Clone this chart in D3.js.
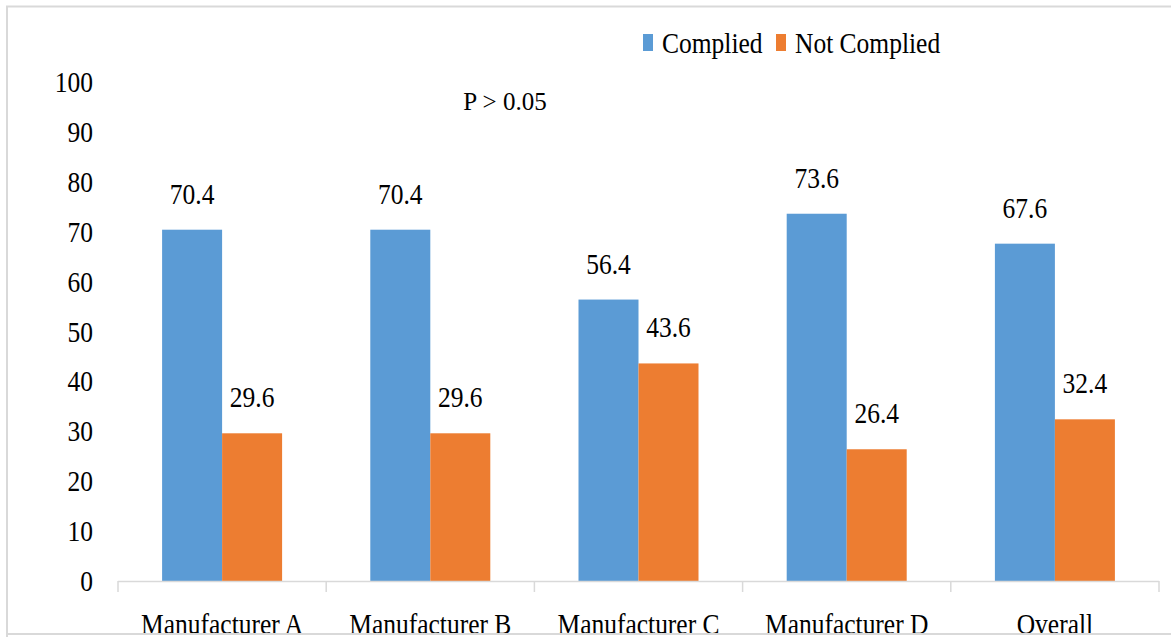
<!DOCTYPE html>
<html><head><meta charset="utf-8">
<script src="https://cdn.jsdelivr.net/npm/d3@7"></script>
<style>html,body{margin:0;padding:0;background:#fff;}svg{display:block;}
text{font-family:"Liberation Serif","DejaVu Serif",serif;}</style>
</head><body>
<svg id="c" width="1171" height="637"></svg>
<script>
const categories = ["Manufacturer A","Manufacturer B","Manufacturer C","Manufacturer D","Overall"];
const seriesNames = ["Complied","Not Complied"];
const complied = [70.4, 70.4, 56.4, 73.6, 67.6];
const notComplied = [29.6, 29.6, 43.6, 26.4, 32.4];
const yTicks = [0,10,20,30,40,50,60,70,80,90,100];
const colors = ["#5B9BD5","#ED7D31"];
const note = "P > 0.05";

const svg = d3.select("#c");
const SX = 0.85;

function txt(g, x, y, s, size, anchor, sx){
  return g.append("text")
    .attr("transform", `translate(${x},${y}) scale(${sx===undefined?SX:sx},1)`)
    .attr("text-anchor", anchor||"middle")
    .attr("font-size", size).attr("fill", "#000")
    .text(s);
}

// frame
svg.append("path").attr("d","M7,640 V6.5 H1180").attr("fill","none").attr("stroke","#d9d9d9").attr("stroke-width",2);

const x0 = d3.scaleBand().domain(categories).range([118,1159]).paddingInner(0).paddingOuter(0);
const groupW = 120;
const x1 = d3.scaleBand().domain(seriesNames).range([0,groupW]).padding(0);
const y = d3.scaleLinear().domain([0,100]).range([581,82]);

yTicks.forEach(t => {
  txt(svg, 93, y(t)+10, String(t), 30, "end");
});

const data = categories.map((c,i)=>({cat:c, vals:[complied[i], notComplied[i]]}));

const groups = svg.append("g").selectAll("g").data(data).join("g")
  .attr("transform", d => `translate(${x0(d.cat)+(x0.bandwidth()-groupW)/2},0)`);

groups.selectAll("rect").data(d => d.vals.map((v,j)=>({v, s:seriesNames[j], j})))
  .join("rect")
  .attr("x", d => x1(d.s))
  .attr("y", d => y(d.v))
  .attr("width", x1.bandwidth())
  .attr("height", d => y(0)-y(d.v))
  .attr("fill", d => colors[d.j]);

groups.each(function(d){
  const g = d3.select(this);
  d.vals.forEach((v,j)=>{
    txt(g, x1(seriesNames[j]) + x1.bandwidth()/2, y(v) - 26, v.toFixed(1), 30);
  });
});

const ax = svg.append("g").attr("stroke","#d9d9d9").attr("stroke-width",1.5);
ax.append("line").attr("x1",118).attr("x2",1159).attr("y1",581.5).attr("y2",581.5);
const tickXs = categories.map(c => x0(c)).concat([x0.range()[1]]);
tickXs.forEach(tx => ax.append("line").attr("x1",tx).attr("x2",tx).attr("y1",581).attr("y2",592));

categories.forEach(c => txt(svg, x0(c)+x0.bandwidth()/2, 634, c, 30));

svg.append("line").attr("x1",6).attr("x2",1180).attr("y1",634).attr("y2",634).attr("stroke","#d9d9d9").attr("stroke-width",2);

txt(svg, 505, 110, note, 25, "middle", 1);

const legendItems = [{name:seriesNames[0], x:643},{name:seriesNames[1], x:776}];
legendItems.forEach((it,i)=>{
  svg.append("rect").attr("x", it.x).attr("y", 34).attr("width", 10).attr("height", 17).attr("fill", colors[i]);
  txt(svg, it.x+19, 53, it.name, 30, "start");
});
</script>
</body></html>
